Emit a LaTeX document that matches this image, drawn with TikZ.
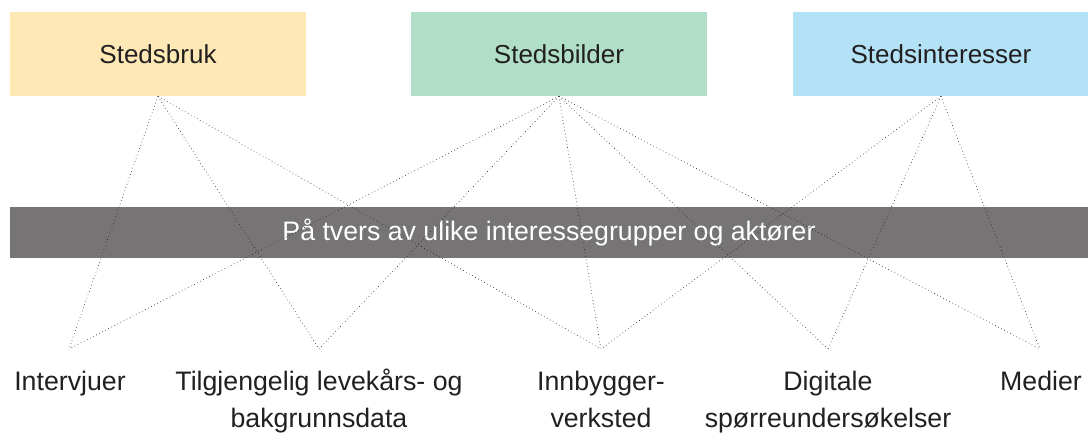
\documentclass[tikz,border=0pt]{standalone}
\usepackage{fontspec}
\setmainfont{Liberation Sans}
\usepackage{tikz}
\usetikzlibrary{positioning,calc}

\definecolor{brukgul}{RGB}{254,232,182}
\definecolor{bildegronn}{RGB}{177,222,199}
\definecolor{interesseblaa}{RGB}{179,225,245}
\definecolor{baandgraa}{RGB}{118,116,117}
\definecolor{tekstsvart}{RGB}{34,31,32}

\begin{document}
\begin{tikzpicture}[x=0.025cm, y=-0.025cm,
    boks/.style = {minimum width = 7.4cm, minimum height = 2.1cm,
      inner sep = 0, text = tekstsvart,
      font = \fontsize{18.5}{22}\selectfont},
    metode/.style = {align = center, anchor = north, inner sep = 0,
      text = tekstsvart, font = \fontsize{19}{26.3}\selectfont},
    prikk/.style = {dotted, line width = 0.45pt, tekstsvart}]
  \useasboundingbox (0,0) rectangle (1088,435);

  % the three boxes on top
  \node[boks, fill = brukgul]       (bruk)      at (158,54) {Stedsbruk};
  \node[boks, fill = bildegronn]    (bilder)    at (559,54) {Stedsbilder};
  \node[boks, fill = interesseblaa] (interesse) at (941,54) {Stedsinteresser};

  % grey band across
  \node[fill = baandgraa, text = white, minimum width = 26.95cm,
    minimum height = 1.275cm, inner sep = 0,
    font = \fontsize{19}{22}\selectfont]
    (tvers) at (549,232.5) {På tvers av ulike interessegrupper og aktører};

  % end points of the lines
  \coordinate (intervju) at (69,349);
  \coordinate (tilgj)    at (319,349);
  \coordinate (innb)     at (601,349);
  \coordinate (digi)     at (828,349);
  \coordinate (medie)    at (1040,349);

  % labels of the methods
  \node[metode] (tintervju) at (70,364)   {\strut Intervjuer};
  \node[metode] (ttilgj)    at (319,364)  {\strut Tilgjengelig levekårs- og\\bakgrunnsdata};
  \node[metode] (tinnb)     at (601,364)  {\strut Innbygger-\\verksted};
  \node[metode] (tdigi)     at (828,364)  {\strut Digitale\\spørreundersøkelser};
  \node[metode] (tmedie)    at (1041,364) {\strut Medier};

  % lines from Stedsbruk
  \draw[prikk] (bruk.south) -- (intervju);
  \draw[prikk] (bruk.south) -- (tilgj);
  \draw[prikk] (bruk.south) -- (innb);

  % lines from Stedsbilder
  \draw[prikk] (bilder.south) -- (intervju);
  \draw[prikk] (bilder.south) -- (tilgj);
  \draw[prikk] (bilder.south) -- (innb);
  \draw[prikk] (bilder.south) -- (digi);
  \draw[prikk] (bilder.south) -- (medie);

  % lines from Stedsinteresser
  \draw[prikk] (interesse.south) -- (innb);
  \draw[prikk] (interesse.south) -- (digi);
  \draw[prikk] (interesse.south) -- (medie);
\end{tikzpicture}
\end{document}
